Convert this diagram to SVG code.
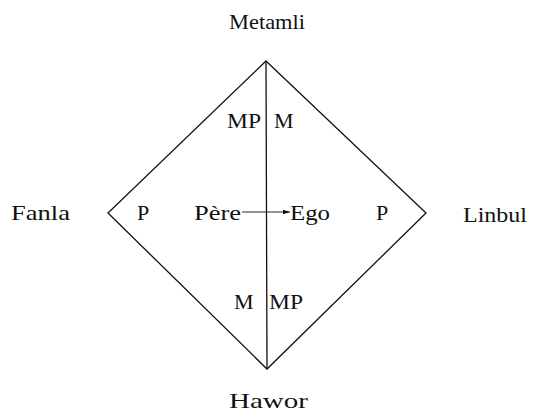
<svg xmlns="http://www.w3.org/2000/svg" width="539" height="413" viewBox="0 0 539 413">
<style>
.t{font-family:"Liberation Serif","Times New Roman",serif;font-size:22px;fill:#111}
.ln{stroke:#111;stroke-width:1.3;fill:none}
.ar{stroke:#111;stroke-width:0.9;fill:none}
</style>
<defs>
<marker id="ah" markerWidth="8" markerHeight="6" refX="7" refY="3" orient="auto" markerUnits="userSpaceOnUse">
<path d="M0,0.8 L7,3 L0,5.2 Z" fill="#111"/>
</marker>
</defs>
<rect width="539" height="413" fill="#fff"/>
<g id="connectors">
<path class="ln" d="M266,61 L426,213 L267,369 L108,213 Z"/>
<line class="ln" x1="266" y1="61" x2="267" y2="369"/>
<line class="ar" x1="242" y1="212" x2="290" y2="212" marker-end="url(#ah)"/>
</g>
<g id="metamli"><text class="t" x="229" y="29" textLength="76" lengthAdjust="spacingAndGlyphs">Metamli</text></g>
<g id="hawor"><text class="t" x="229" y="408" textLength="79" lengthAdjust="spacingAndGlyphs">Hawor</text></g>
<g id="fanla"><text class="t" x="11" y="220" textLength="59" lengthAdjust="spacingAndGlyphs">Fanla</text></g>
<g id="linbul"><text class="t" x="463" y="222" textLength="64" lengthAdjust="spacingAndGlyphs">Linbul</text></g>
<g id="labels">
<text class="t" x="227" y="128" textLength="34" lengthAdjust="spacingAndGlyphs">MP</text>
<text class="t" x="274" y="128">M</text>
<text class="t" x="234" y="309">M</text>
<text class="t" x="269" y="309" textLength="34" lengthAdjust="spacingAndGlyphs">MP</text>
<text class="t" x="137" y="220">P</text>
<text class="t" x="376" y="220">P</text>
<text class="t" x="194" y="220" textLength="47" lengthAdjust="spacingAndGlyphs">Père</text>
<text class="t" x="290" y="220" textLength="40" lengthAdjust="spacingAndGlyphs">Ego</text>
</g>
</svg>
